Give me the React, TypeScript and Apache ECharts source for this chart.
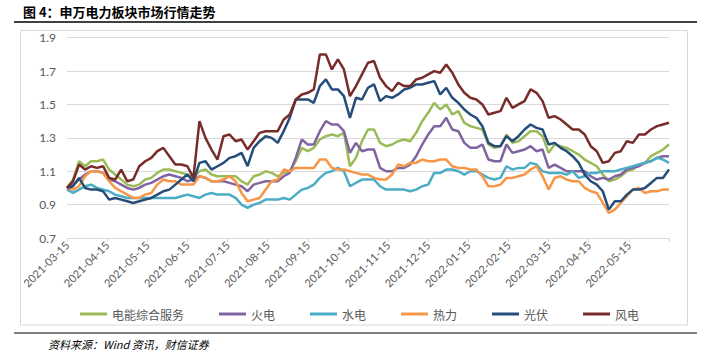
import React, { useEffect, useRef } from "react";
import * as echarts from "echarts";

// one point every STEP trading days; x ticks every 20 trading days
const STEP = 3;
const tickLabels = [
  "2021-03-15", "2021-04-15", "2021-05-15", "2021-06-15", "2021-07-15",
  "2021-08-15", "2021-09-15", "2021-10-15", "2021-11-15", "2021-12-15",
  "2022-01-15", "2022-02-15", "2022-03-15", "2022-04-15", "2022-05-15",
];
const seriesNames = ["电能综合服务", "火电", "水电", "热力", "光伏", "风电"];

const dianneng = [
  1.00, 1.05, 1.16, 1.13, 1.16, 1.16, 1.17, 1.11, 1.08, 1.05, 1.02, 1.01, 1.02, 1.05, 1.06, 1.09, 1.11, 1.11,
  1.10, 1.09, 1.08, 1.06, 1.10, 1.11, 1.08, 1.07, 1.07, 1.07, 1.07, 1.04, 1.02, 1.07, 1.08, 1.10,
  1.09, 1.07, 1.09, 1.10, 1.16, 1.24, 1.22, 1.24, 1.29, 1.31, 1.32, 1.31, 1.33, 1.13, 1.18, 1.28, 1.35,
  1.35, 1.27, 1.25, 1.26, 1.28, 1.29, 1.28, 1.33, 1.40, 1.45, 1.51, 1.47, 1.50, 1.44, 1.46, 1.39, 1.37,
  1.36, 1.35, 1.26, 1.24, 1.25, 1.32, 1.27, 1.28, 1.31, 1.34, 1.34, 1.31, 1.21, 1.26, 1.25, 1.24, 1.22,
  1.20, 1.17, 1.15, 1.13, 1.08, 1.04, 1.05, 1.07, 1.10, 1.11, 1.14, 1.15, 1.19, 1.21, 1.23, 1.26,
];
const huodian = [
  1.00, 1.02, 1.05, 1.08, 1.10, 1.10, 1.09, 1.05, 1.04, 1.02, 1.00, 0.99, 1.00, 1.02, 1.03, 1.05, 1.07, 1.08,
  1.07, 1.06, 1.04, 1.05, 1.07, 1.06, 1.04, 1.04, 1.04, 1.03, 1.02, 1.01, 0.98, 1.02, 1.03, 1.04,
  1.04, 1.04, 1.07, 1.09, 1.18, 1.29, 1.26, 1.26, 1.34, 1.40, 1.38, 1.38, 1.34, 1.21, 1.27, 1.22, 1.23,
  1.23, 1.12, 1.10, 1.10, 1.12, 1.12, 1.14, 1.19, 1.26, 1.32, 1.37, 1.37, 1.42, 1.35, 1.34, 1.27, 1.24,
  1.24, 1.26, 1.17, 1.16, 1.16, 1.26, 1.21, 1.22, 1.23, 1.25, 1.22, 1.23, 1.12, 1.14, 1.12, 1.10, 1.10,
  1.10, 1.10, 1.07, 1.05, 1.06, 1.05, 1.07, 1.08, 1.11, 1.12, 1.13, 1.15, 1.16, 1.18, 1.19, 1.19,
];
const shuidian = [
  0.99, 0.97, 0.99, 1.01, 1.02, 1.00, 0.99, 0.98, 0.96, 0.95, 0.94, 0.94, 0.94, 0.94, 0.94, 0.94, 0.94, 0.94,
  0.94, 0.95, 0.96, 0.95, 0.94, 0.96, 0.97, 0.96, 0.96, 0.96, 0.94, 0.90, 0.88, 0.90, 0.91, 0.93,
  0.93, 0.93, 0.94, 0.93, 0.96, 0.99, 1.00, 1.02, 1.06, 1.09, 1.10, 1.12, 1.10, 1.01, 1.03, 1.05, 1.05,
  1.05, 1.01, 0.99, 0.99, 0.99, 0.99, 0.98, 0.99, 1.01, 1.02, 1.09, 1.09, 1.11, 1.11, 1.10, 1.08, 1.10,
  1.10, 1.08, 1.06, 1.05, 1.06, 1.13, 1.11, 1.12, 1.12, 1.15, 1.14, 1.10, 1.09, 1.09, 1.09, 1.08, 1.10,
  1.06, 1.07, 1.09, 1.09, 1.10, 1.10, 1.10, 1.11, 1.12, 1.13, 1.14, 1.15, 1.16, 1.18, 1.17, 1.15,
];
const reli = [
  1.00, 0.99, 1.01, 1.07, 1.10, 1.10, 1.09, 1.04, 1.00, 0.98, 0.96, 0.94, 0.94, 0.96, 0.97, 1.02, 1.05, 1.04,
  1.04, 1.02, 1.02, 1.02, 1.07, 1.06, 1.04, 1.04, 1.05, 1.07, 1.04, 0.97, 0.92, 0.93, 0.94, 0.99,
  1.04, 1.05, 1.11, 1.10, 1.12, 1.12, 1.12, 1.12, 1.17, 1.17, 1.12, 1.11, 1.11, 1.10, 1.09, 1.08, 1.08,
  1.06, 1.05, 1.05, 1.08, 1.14, 1.13, 1.15, 1.15, 1.17, 1.16, 1.16, 1.17, 1.17, 1.13, 1.12, 1.12, 1.11,
  1.11, 1.07, 1.01, 1.01, 1.02, 1.06, 1.06, 1.07, 1.08, 1.11, 1.13, 1.07, 0.99, 1.06, 1.07, 1.05, 1.04,
  1.04, 1.00, 0.98, 0.97, 0.91, 0.85, 0.87, 0.91, 0.95, 0.99, 1.00, 0.97, 0.98, 0.98, 0.99, 0.99,
];
const guangfu = [
  1.00, 1.01, 1.06, 1.00, 0.99, 0.99, 0.98, 0.93, 0.94, 0.93, 0.92, 0.91, 0.92, 0.93, 0.94, 0.96, 0.98, 0.99,
  1.02, 1.05, 1.08, 1.04, 1.15, 1.16, 1.11, 1.13, 1.15, 1.18, 1.19, 1.21, 1.13, 1.24, 1.28, 1.31,
  1.30, 1.27, 1.34, 1.42, 1.53, 1.53, 1.53, 1.51, 1.61, 1.65, 1.59, 1.59, 1.55, 1.42, 1.54, 1.53, 1.60,
  1.62, 1.52, 1.55, 1.54, 1.56, 1.59, 1.60, 1.62, 1.62, 1.63, 1.64, 1.56, 1.60, 1.54, 1.51, 1.47, 1.44,
  1.42, 1.37, 1.27, 1.25, 1.25, 1.31, 1.28, 1.31, 1.35, 1.38, 1.36, 1.35, 1.26, 1.27, 1.24, 1.22, 1.19,
  1.15, 1.08, 1.04, 1.02, 0.98, 0.87, 0.92, 0.92, 0.96, 0.99, 0.99, 1.00, 1.03, 1.06, 1.06, 1.11,
];
const fengdian = [
  1.00, 1.04, 1.14, 1.11, 1.13, 1.12, 1.13, 1.06, 1.05, 1.11, 1.04, 1.05, 1.13, 1.16, 1.18, 1.22, 1.24, 1.19,
  1.14, 1.14, 1.13, 1.06, 1.40, 1.30, 1.23, 1.17, 1.31, 1.32, 1.28, 1.29, 1.23, 1.28, 1.33, 1.34,
  1.34, 1.34, 1.41, 1.44, 1.53, 1.56, 1.57, 1.59, 1.80, 1.80, 1.71, 1.77, 1.71, 1.55, 1.61, 1.68, 1.75,
  1.76, 1.66, 1.61, 1.58, 1.63, 1.61, 1.61, 1.65, 1.66, 1.68, 1.70, 1.69, 1.74, 1.69, 1.62, 1.57, 1.54,
  1.53, 1.50, 1.44, 1.45, 1.46, 1.54, 1.48, 1.50, 1.52, 1.59, 1.57, 1.52, 1.42, 1.43, 1.41, 1.38, 1.35,
  1.35, 1.32, 1.25, 1.22, 1.15, 1.16, 1.21, 1.22, 1.28, 1.27, 1.32, 1.32, 1.35, 1.37, 1.38, 1.39,
];

const allValues = [dianneng, huodian, shuidian, reli, guangfu, fengdian];
const colors = ["#9BBB59", "#8064A2", "#4BACC6", "#F79646", "#264D7A", "#772C2A"];

const GRAY = "#595959";
const FONT = "Lato, 'Noto Sans CJK SC', sans-serif";
const CJK = "'Noto Sans CJK SC', sans-serif";

export default function App() {
  const ref = useRef<HTMLDivElement>(null);
  useEffect(() => {
    if (!ref.current) return;
    const chart = echarts.init(ref.current, null, { renderer: "svg" });
    const total = (dianneng.length - 1) * STEP;
    chart.setOption({
      animation: false,
      backgroundColor: "#ffffff",
      grid: { left: 67, right: 50, top: 37.7, bottom: 124 },
      legend: {
        data: seriesNames,
        top: 303,
        left: "center",
        icon: "rect",
        itemWidth: 27,
        itemHeight: 3,
        itemGap: 35,
        textStyle: { color: GRAY, fontSize: 12, fontFamily: CJK },
      },
      xAxis: {
        type: "value",
        min: 0,
        max: total,
        interval: 20,
        axisLine: { show: true, lineStyle: { color: "#D9D9D9", width: 1 } },
        axisTick: { show: true, length: 4, lineStyle: { color: "#D9D9D9" } },
        splitLine: { show: false },
        axisLabel: {
          rotate: 45,
          margin: 5,
          color: GRAY,
          fontSize: 11,
          fontFamily: FONT,
          showMaxLabel: true,
          formatter: (v: number) => {
            const k = Math.round(v / 20);
            return tickLabels[k] ?? "";
          },
        },
      },
      yAxis: {
        type: "value",
        min: 0.7,
        max: 1.9,
        interval: 0.2,
        axisLine: { show: false },
        axisTick: { show: false },
        splitLine: { lineStyle: { color: "#D9D9D9", width: 1 } },
        axisLabel: {
          color: GRAY,
          fontSize: 12,
          fontFamily: FONT,
          margin: 11,
          formatter: (v: number) => v.toFixed(1),
        },
      },
      series: seriesNames.map((name, si) => ({
        name,
        type: "line",
        symbol: "none",
        color: colors[si],
        lineStyle: { width: 2.5, color: colors[si] },
        data: allValues[si].map((v, i) => [i * STEP, v]),
        z: 2 + si,
      })),
      graphic: [
        {
          type: "text",
          left: 23,
          top: 5,
          style: {
            text: "图 4：申万电力板块市场行情走势",
            fill: "#000",
            font: "bold 13px 'Noto Sans CJK SC', sans-serif",
          },
        },
        {
          type: "line",
          shape: { x1: 14, y1: 22, x2: 697, y2: 22 },
          style: { stroke: "#000", lineWidth: 1.5 },
        },
        {
          type: "rect",
          shape: { x: 20.5, y: 30.5, width: 667, height: 294.5 },
          style: { fill: "none", stroke: "#D9D9D9", lineWidth: 1 },
          silent: true,
        },
        {
          type: "line",
          shape: { x1: 14, y1: 333, x2: 697, y2: 333 },
          style: { stroke: "#000", lineWidth: 1.2 },
        },
        {
          type: "text",
          left: 48,
          top: 338,
          style: {
            text: "资料来源：Wind 资讯，财信证券",
            fill: "#000",
            font: "italic 11px 'Noto Sans CJK SC', sans-serif",
          },
        },
      ],
    });
    return () => chart.dispose();
  }, []);
  return (
    <div
      ref={ref}
      style={{ position: "fixed", left: 0, top: 0, width: 719, height: 362 }}
    />
  );
}
